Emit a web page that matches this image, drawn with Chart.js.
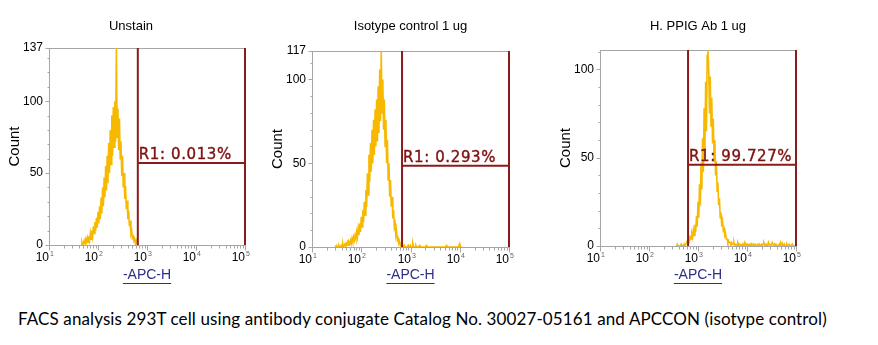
<!DOCTYPE html>
<html>
<head>
<meta charset="utf-8">
<script src="https://cdn.jsdelivr.net/npm/chart.js@4.4.1/dist/chart.umd.min.js"></script>
<style>
  html, body { margin: 0; padding: 0; background: #fff; }
  #wrap { position: relative; width: 878px; height: 345px; overflow: hidden; }
  canvas { position: absolute; top: 0; }
  #caption {
    position: absolute; left: 18px; top: 308px;
    font-family: "Lato", sans-serif; font-size: 17px; color: #000;
    white-space: nowrap;
  }
</style>
</head>
<body>
<div id="wrap">
  <canvas id="p0" width="262" height="295" style="left:0px"></canvas>
  <canvas id="p1" width="265" height="295" style="left:263px"></canvas>
  <canvas id="p2" width="270" height="295" style="left:551px"></canvas>
  <div id="caption">FACS analysis 293T cell using antibody conjugate Catalog No. 30027-05161 and APCCON (isotype control)</div>
</div>
<script>
/* --------------- Data (channels: 64 per decade, 10^1 .. 10^5) --------------- */
const binsPerDecade = 64;
const channelMax = 256;
const decadeBase = "10";
const decadeExps = ["1", "2", "3", "4", "5"];

const panelTitles = ["Unstain", "Isotype control 1 ug", "H. PPIG Ab 1 ug"];
const yMax = [137, 117, 111];
const yTicks = [[0, 50, 100, 137], [0, 50, 100, 117], [0, 50, 100]];

// gate R1
const gateLow = [116, 117, 115];
const gateHigh = 256;
const gateLevel = [57, 48.5, 46];
const gateText = ["R1: 0.013%", "R1: 0.293%", "R1: 99.727%"];

// histogram counts, first value at the start channel
const unstainStart = 42;
const unstainCounts = [
  0, 2, 0, 1, 3, 1, 4, 2, 5, 2,
  6, 3, 8, 4, 10, 6, 13, 8, 16, 10,
  19, 12, 23, 15, 27, 18, 33, 22, 40, 27,
  47, 33, 55, 38, 62, 43, 71, 50, 80, 56,
  90, 62, 96, 68, 100, 72, 137, 75, 95, 66,
  88, 60, 72, 48, 62, 40, 50, 32, 41, 25,
  31, 18, 24, 13, 17, 8, 10, 5, 6, 3,
  4, 1, 3, 1, 0
];

const isotypeStart = 30;
const isotypeCounts = [
  0, 0, 1, 0, 0, 1, 0, 0, 1, 0,
  2, 0, 1, 2, 0, 2, 3, 1, 3, 2,
  4, 2, 5, 3, 6, 4, 7, 5, 9, 6,
  11, 7, 14, 9, 18, 12, 22, 15, 27, 19,
  34, 24, 44, 31, 55, 39, 62, 45, 70, 50,
  76, 55, 82, 60, 88, 63, 96, 68, 106, 75,
  117, 80, 100, 70, 88, 60, 76, 50, 64, 40,
  50, 30, 40, 24, 30, 17, 22, 12, 14, 7,
  9, 4, 5, 2, 3, 1, 2, 0, 1, 0,
  1, 0, 0, 0, 0, 1, 0, 0, 1, 0,
  0, 2, 0, 0, 0, 1, 0, 0, 0, 0,
  1, 0, 0, 0, 0, 0, 0, 0, 0, 1,
  0, 0, 0, 0, 0, 0, 0, 0, 0, 0,
  0, 0, 0, 0, 0, 0, 0, 0, 0, 0,
  0, 0, 0, 0, 0, 1, 0, 0, 0, 0,
  0, 0, 0, 0, 0, 0, 0, 0, 0, 0,
  0, 0, 2, 0, 0, 0
];

const ppigStart = 100;
const ppigCounts = [
  0, 1, 0, 0, 0, 0, 1, 0, 0, 0,
  1, 0, 1, 2, 3, 2, 5, 3, 5, 4,
  7, 5, 9, 6, 12, 8, 17, 11, 25, 16,
  35, 23, 47, 32, 61, 42, 78, 54, 93, 65,
  108, 111, 100, 75, 96, 68, 84, 58, 72, 48,
  60, 40, 48, 31, 36, 23, 27, 16, 19, 11,
  14, 9, 10, 6, 7, 4, 4, 2, 3, 2,
  2, 1, 2, 1, 1, 2, 0, 1, 1, 0,
  2, 1, 0, 1, 1, 0, 1, 0, 1, 2,
  0, 1, 0, 1, 1, 0, 1, 0, 1, 0,
  1, 0, 1, 1, 0, 0, 1, 0, 1, 0,
  0, 1, 0, 1, 2, 1, 0, 1, 1, 0,
  2, 1, 1, 0, 1, 2, 1, 0, 1, 0,
  1, 1, 0, 0, 1, 0, 2, 1, 0, 1,
  0, 1, 0, 0, 1, 0, 0, 1, 0, 0,
  0, 1, 0, 0, 0, 0
];

const histStarts = [unstainStart, isotypeStart, ppigStart];
const histCounts = [unstainCounts, isotypeCounts, ppigCounts];

/* --------------- Layout per panel --------------- */
const canvasIds = ["p0", "p1", "p2"];
const padRight = [17, 19, 25];
const padTop = [48, 51, 50];
const xAxisHeight = [50, 48, 49];
const titleShift = [-16, 0, 0];

const histColor = "rgb(247, 185, 0)";
const gateColor = "#8b1a1a";
const labelColor = "#7d1212";
const axisGray = "#a6a6a6";

/* --------------- Frame, ticks, gate label, titles --------------- */
const facsDeco = {
  id: "facsDeco",
  beforeDatasetsDraw(chart, args, o) {
    const { ctx, chartArea: a, scales: { x, y } } = chart;
    const L = Math.round(a.left) + 0.5, T = Math.round(a.top) + 0.5;
    const R = Math.round(a.right) + 0.5, B = Math.round(a.bottom) + 0.5;
    ctx.save();
    ctx.strokeStyle = axisGray;
    ctx.lineWidth = 1;
    ctx.strokeRect(L, T, R - L, B - T);
    ctx.beginPath();
    for (let d = 0; d < decadeExps.length; d++) {
      const px = Math.round(x.getPixelForValue(d * binsPerDecade)) + 0.5;
      ctx.moveTo(px, B); ctx.lineTo(px, B + 5);
      if (d === decadeExps.length - 1) break;
      for (let k = 2; k < 10; k++) {
        const mx = Math.round(x.getPixelForValue((d + Math.log10(k)) * binsPerDecade)) + 0.5;
        ctx.moveTo(mx, B); ctx.lineTo(mx, B + 3);
      }
    }
    for (let v = 10; v < y.max; v += 10) {
      const py = Math.round(y.getPixelForValue(v)) + 0.5;
      ctx.moveTo(L, py); ctx.lineTo(L - 2, py);
    }
    y.ticks.forEach(t => {
      const py = Math.round(y.getPixelForValue(t.value)) + 0.5;
      ctx.moveTo(L, py); ctx.lineTo(L - 4, py);
    });
    ctx.stroke();
    ctx.restore();
  },
  afterDatasetsDraw(chart, args, o) {
    const { ctx, scales: { x, y } } = chart;
    const lx = x.getPixelForValue(o.gateX) + 1;
    const ly = y.getPixelForValue(o.gateY) - 4;
    ctx.save();
    ctx.font = '15px "DejaVu Sans"';
    ctx.letterSpacing = "0.6px";
    ctx.fillStyle = labelColor;
    ctx.strokeStyle = labelColor;
    ctx.lineWidth = 0.4;
    ctx.textAlign = "left";
    ctx.textBaseline = "alphabetic";
    ctx.fillText(o.label, lx, ly);
    ctx.strokeText(o.label, lx, ly);
    ctx.restore();
  },
  afterDraw(chart, args, o) {
    const { ctx, chartArea: a, scales: { x } } = chart;
    ctx.save();
    // decade labels 10^n
    decadeExps.forEach((e, d) => {
      const px = Math.round(x.getPixelForValue(d * binsPerDecade));
      ctx.fillStyle = "#000";
      ctx.font = '12px "Liberation Sans"';
      ctx.textAlign = "right";
      ctx.textBaseline = "middle";
      ctx.fillText(decadeBase, px, a.bottom + 13);
      ctx.fillStyle = "#666";
      ctx.font = '7px "Liberation Sans"';
      ctx.textAlign = "left";
      ctx.fillText(e, px + 1, a.bottom + 9);
    });
    // panel title
    ctx.fillStyle = "#000";
    ctx.font = '13px "Liberation Sans"';
    ctx.textAlign = "center";
    ctx.textBaseline = "middle";
    ctx.fillText(o.title, (a.left + a.right) / 2 + o.titleDx, 26);
    // underline for the axis title
    const t = x.options.title;
    ctx.font = t.font.size + 'px "Liberation Sans"';
    const w = ctx.measureText(t.text).width;
    const cy = x.bottom - t.padding.bottom - t.font.size * 1.2 / 2;
    const cx = (x.left + x.right) / 2;
    ctx.strokeStyle = t.color;
    ctx.lineWidth = 1;
    ctx.beginPath();
    ctx.moveTo(cx - w / 2, Math.round(cy + t.font.size / 2) + 0.5);
    ctx.lineTo(cx + w / 2, Math.round(cy + t.font.size / 2) + 0.5);
    ctx.stroke();
    ctx.restore();
  }
};

/* --------------- Charts --------------- */
canvasIds.forEach((id, i) => {
  const hist = histCounts[i].map((c, k) => ({ x: histStarts[i] + k, y: c }));
  const gateLine = (pts) => ({
    data: pts,
    borderColor: gateColor,
    borderWidth: 2,
    pointRadius: 0,
    clip: false,
    order: 0
  });

  new Chart(document.getElementById(id), {
    type: "line",
    data: {
      datasets: [
        gateLine([{ x: gateLow[i], y: 0 }, { x: gateLow[i], y: yMax[i] }]),
        gateLine([{ x: gateHigh, y: 0 }, { x: gateHigh, y: yMax[i] }]),
        gateLine([{ x: gateLow[i], y: gateLevel[i] }, { x: gateHigh, y: gateLevel[i] }]),
        {
          data: hist,
          borderColor: histColor,
          borderWidth: 1.6,
          pointRadius: 0,
          tension: 0,
          order: 1
        }
      ]
    },
    options: {
      responsive: false,
      animation: false,
      layout: { padding: { left: 0, right: padRight[i], top: padTop[i], bottom: 0 } },
      plugins: {
        legend: { display: false },
        tooltip: { enabled: false },
        title: { display: false },
        facsDeco: {
          title: panelTitles[i],
          titleDx: titleShift[i],
          label: gateText[i],
          gateX: gateLow[i],
          gateY: gateLevel[i]
        }
      },
      scales: {
        x: {
          type: "linear",
          min: 0,
          max: channelMax,
          ticks: { display: false },
          grid: { display: false },
          border: { display: false },
          title: {
            display: true,
            text: "-APC-H",
            color: "#2e2e8a",
            font: { family: "Liberation Sans", size: 14 },
            padding: { top: 0, bottom: 11 }
          },
          afterFit: (s) => { s.height = xAxisHeight[i]; }
        },
        y: {
          min: 0,
          max: yMax[i],
          afterBuildTicks: (s) => { s.ticks = yTicks[i].map(v => ({ value: v })); },
          ticks: {
            color: "#000",
            padding: 6,
            font: { family: "Liberation Sans", size: 12 }
          },
          grid: { display: false, drawTicks: false },
          border: { display: false },
          title: {
            display: true,
            text: "Count",
            color: "#000",
            font: { family: "Liberation Sans", size: 15 },
            padding: { top: 6, bottom: 0 }
          },
          afterFit: (s) => { s.width = 49; }
        }
      }
    },
    plugins: [facsDeco]
  });
});

/* --------------- Caption width --------------- */
document.fonts.ready.then(() => {
  const cap = document.getElementById("caption");
  const w = cap.getBoundingClientRect().width;
  cap.style.letterSpacing = ((809 - w) / (cap.textContent.length - 1)) + "px";
});
</script>
</body>
</html>
